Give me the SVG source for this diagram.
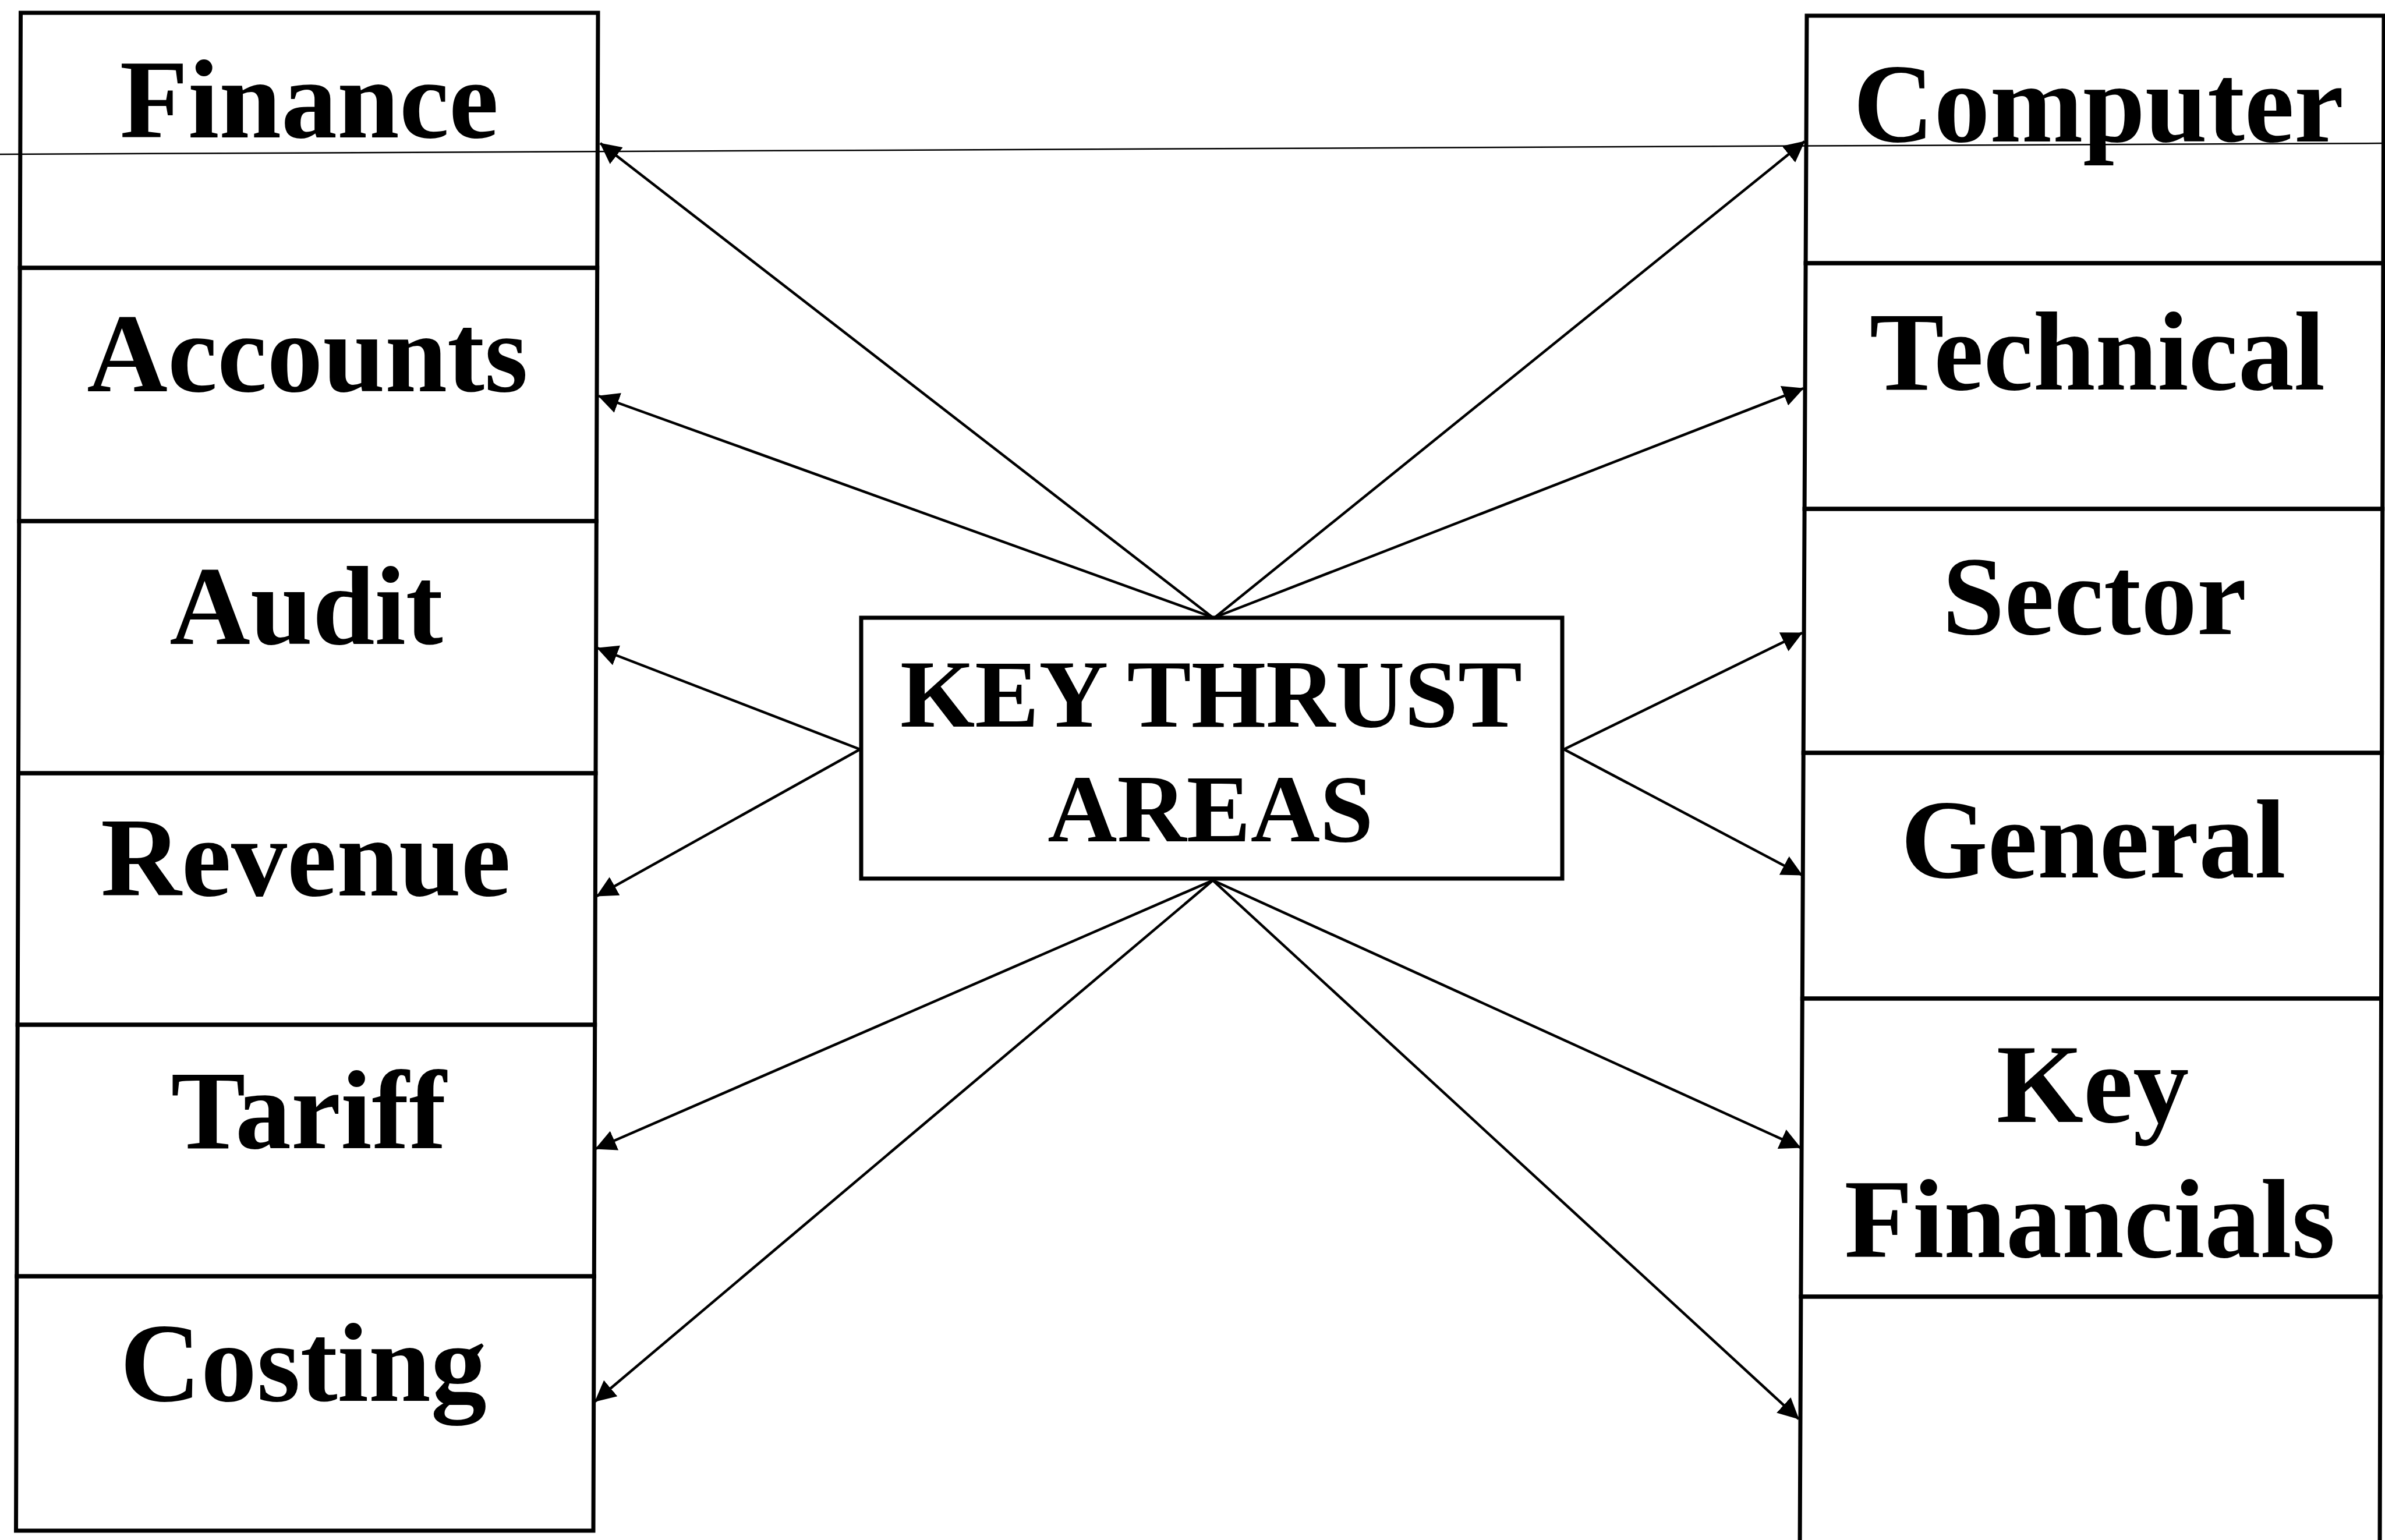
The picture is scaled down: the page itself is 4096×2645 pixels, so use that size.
<svg xmlns="http://www.w3.org/2000/svg" width="4096" height="2645" viewBox="0 0 4096 2645">
  <defs>
    <style>
      .box { fill: none; stroke: #000; stroke-width: 7; stroke-linejoin: miter; }
      .hub { fill: none; stroke: #000; stroke-width: 7; }
      .lbl { font-family: "Liberation Serif", "Times New Roman", serif; font-weight: bold; font-size: 192px; fill: #000; text-anchor: middle; }
      .hubtxt { font-family: "Liberation Serif", "Times New Roman", serif; font-weight: bold; font-size: 165px; fill: #000; text-anchor: middle; }
      .link { fill: none; stroke: #000; stroke-width: 4.5; marker-end: url(#head); }
      .rule { fill: none; stroke: #000; stroke-width: 2.5; }
    </style>
    <marker id="head" markerUnits="userSpaceOnUse" viewBox="0 0 36 36" markerWidth="36" markerHeight="36" refX="35" refY="18" orient="auto">
      <path d="M0,0 L36,18 L0,36 z" fill="#000"/>
    </marker>
  </defs>
  <rect x="0" y="0" width="4096" height="2645" fill="#fff"/>

  <!-- long thin rule across the top -->
  <line class="rule" x1="0" y1="265" x2="4096" y2="246"/>

  <!-- left column -->
  <g id="finance">
    <polygon class="box" points="35.5,22 1027,22 1025.7,460 34.2,460"/>
    <text class="lbl" x="531" y="236">Finance</text>
  </g>
  <g id="accounts">
    <polygon class="box" points="34.2,460 1025.7,460 1024.3,895 32.8,895"/>
    <text class="lbl" x="528" y="672">Accounts</text>
  </g>
  <g id="audit">
    <polygon class="box" points="32.8,895 1024.3,895 1023,1328 31.5,1328"/>
    <text class="lbl" x="526" y="1106">Audit</text>
  </g>
  <g id="revenue">
    <polygon class="box" points="31.5,1328 1023,1328 1021.7,1760 30.2,1760"/>
    <text class="lbl" x="525" y="1538">Revenue</text>
  </g>
  <g id="tariff">
    <polygon class="box" points="30.2,1760 1021.7,1760 1020.3,2192 28.8,2192"/>
    <text class="lbl" x="530" y="1972">Tariff</text>
  </g>
  <g id="costing">
    <polygon class="box" points="28.8,2192 1020.3,2192 1019,2629 27.5,2629"/>
    <text class="lbl" x="521" y="2406">Costing</text>
  </g>

  <!-- right column -->
  <g id="computer">
    <polygon class="box" points="3103,27 4094,27 4092.9,452 3101.1,452"/>
    <text class="lbl" x="3604" y="243">Computer</text>
  </g>
  <g id="technical">
    <polygon class="box" points="3101.1,452 4092.9,452 4091.7,874 3099.1,874"/>
    <text class="lbl" x="3602" y="669">Technical</text>
  </g>
  <g id="sector">
    <polygon class="box" points="3099.1,874 4091.7,874 4090.6,1293 3097.2,1293"/>
    <text class="lbl" x="3597" y="1089">Sector</text>
  </g>
  <g id="general">
    <polygon class="box" points="3097.2,1293 4090.6,1293 4089.5,1715 3095.3,1715"/>
    <text class="lbl" x="3595" y="1507">General</text>
  </g>
  <g id="key-financials">
    <polygon class="box" points="3095.3,1715 4089.5,1715 4088.1,2227 3092.9,2227"/>
    <text class="lbl" x="3594" y="1927">Key</text>
    <text class="lbl" x="3589" y="2159">Financials</text>
  </g>
  <g id="blank">
    <polygon class="box" points="3092.9,2227 4088.1,2227 4087,2665 3091,2665"/>
  </g>

  <!-- centre -->
  <g id="key-thrust-areas">
    <rect class="hub" x="1479" y="1061" width="1204" height="448"/>
    <text class="hubtxt" x="2080" y="1248">KEY THRUST</text>
    <text class="hubtxt" x="2079" y="1445">AREAS</text>
  </g>

  <!-- connectors -->
  <g id="connectors">
    <line class="link" x1="2082" y1="1060" x2="1031" y2="246"/>
    <line class="link" x1="2082" y1="1060" x2="1028" y2="680"/>
    <line class="link" x1="1477" y1="1287" x2="1026" y2="1113"/>
    <line class="link" x1="1477" y1="1287" x2="1025" y2="1539"/>
    <line class="link" x1="2083" y1="1512" x2="1023" y2="1973"/>
    <line class="link" x1="2083" y1="1512" x2="1022" y2="2407"/>

    <line class="link" x1="2087" y1="1060" x2="3099" y2="243"/>
    <line class="link" x1="2087" y1="1060" x2="3097" y2="667"/>
    <line class="link" x1="2686" y1="1287" x2="3095" y2="1087"/>
    <line class="link" x1="2686" y1="1287" x2="3095" y2="1503"/>
    <line class="link" x1="2083" y1="1512" x2="3092" y2="1971"/>
    <line class="link" x1="2083" y1="1512" x2="3089" y2="2437"/>
  </g>
</svg>
